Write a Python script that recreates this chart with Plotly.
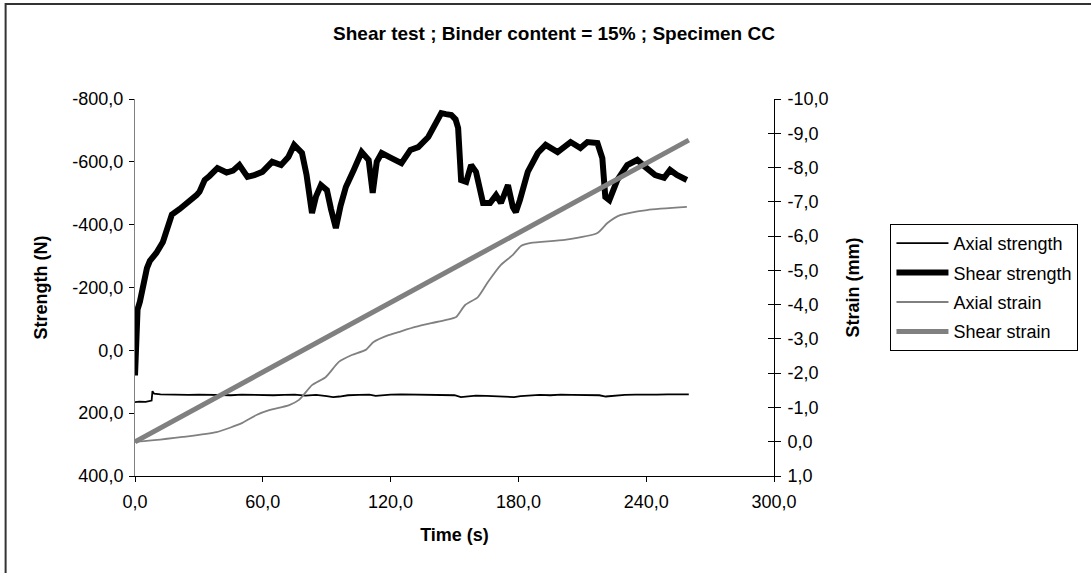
import plotly.graph_objects as go

# ---------------- data ----------------
shear_strength_t = [0, 0.3, 0.6, 1.2, 2.3, 4, 5.6, 7, 10, 13.1, 16.3, 17.3, 21, 25, 28.9, 30.3, 32.7, 35,
                    38.7, 43, 46, 49, 52.8, 56, 59.8, 64.4, 68.6, 72, 74.7, 78.4, 80.5, 83.1, 85, 87.3,
                    90.1, 92, 94.3, 96.5, 99, 102.7, 106.4, 109.7, 111.6, 113.5, 115.8, 120.4, 125.1,
                    129.3, 133, 137.7, 141, 143.8, 146, 148.5, 150.5, 151.7, 153.1, 155.5, 157.8, 160.1,
                    163.4, 166.7, 169.5, 171.8, 175.1, 177.4, 178.8, 180.7, 184.4, 189.1, 192.8, 198.4,
                    204.5, 209.1, 212.4, 217.1, 219.4, 220.8, 222.7, 226.4, 231.1, 235.8, 239.5, 244.2,
                    248.4, 251.2, 254.4, 259.1]
shear_strength_v = [80, 20, -70, -130, -155, -215, -262, -285, -310, -345, -425, -432, -450, -470, -494, -505, -542, -555,
                    -580, -566, -572, -590, -552, -558, -568, -600, -590, -615, -654, -628, -560, -437, -490, -526,
                    -510, -450, -389, -460, -520, -574, -631, -606, -501, -600, -628, -612, -596,
                    -638, -647, -679, -724, -755, -752, -749, -735, -708, -542, -536, -590, -568,
                    -469, -469, -494, -469, -526, -456, -440, -478, -568, -628, -654, -631,
                    -663, -644, -663, -660, -612, -488, -478, -542, -590, -606, -584, -558,
                    -549, -574, -558, -542]

axial_strength_t = [0, 2, 5, 7, 7.8, 8.2, 9, 12, 16, 20, 25, 30, 35, 40, 45, 50, 55, 60, 65, 70, 75, 80,
                    85, 90, 93, 96, 100, 105, 110, 113, 116, 120, 125, 130, 135, 140, 145, 150, 153, 156,
                    160, 165, 170, 175, 178, 181, 185, 190, 195, 200, 205, 210, 215, 218, 221, 225, 230,
                    235, 240, 245, 250, 255, 260]
axial_strength_v = [165, 163, 164, 162, 160, 130, 138, 140, 141, 140, 142, 141, 142, 141, 143, 141, 142, 141,
                    143, 142, 141, 144, 142, 146, 149, 147, 143, 142, 141, 145, 143, 141, 140, 141, 142, 141,
                    142, 143, 149, 146, 144, 145, 146, 147, 149, 146, 144, 142, 143, 141, 142, 142, 141, 143,
                    147, 144, 142, 141, 142, 141, 140, 141, 140]

axial_strain_t = [0, 0.9, 22.4, 38.3, 50.4, 57, 63, 72.4, 77, 83.1, 89.6, 95.7, 101.8, 108.3, 112, 119,
                  123.7, 131.6, 139.1, 145.7, 150.8, 155, 161, 165.7, 171.8, 177.4, 181.2, 185.9, 201.7,
                  217.1, 221.8, 227.8, 240.4, 259.1]
axial_strain_v = [0, 0, -0.14, -0.28, -0.55, -0.78, -0.92, -1.07, -1.22, -1.65, -1.89, -2.33, -2.53, -2.68,
                  -2.91, -3.11, -3.2, -3.35, -3.46, -3.55, -3.64, -3.99, -4.22, -4.66, -5.16, -5.45, -5.71,
                  -5.8, -5.89, -6.09, -6.38, -6.61, -6.76, -6.85]

shear_strain_t = [0, 260]
shear_strain_v = [0, -8.8]

x_ticks = [0, 60, 120, 180, 240, 300]
x_ticktext = ["0,0", "60,0", "120,0", "180,0", "240,0", "300,0"]
y_ticks = [-800, -600, -400, -200, 0, 200, 400]
y_ticktext = ["-800,0", "-600,0", "-400,0", "-200,0", "0,0", "200,0", "400,0"]
y2_ticks = [-10, -9, -8, -7, -6, -5, -4, -3, -2, -1, 0, 1]
y2_ticktext = ["-10,0", "-9,0", "-8,0", "-7,0", "-6,0", "-5,0", "-4,0", "-3,0", "-2,0", "-1,0", "0,0", "1,0"]

FONT = "Liberation Sans, Arial, sans-serif"
GRAY = "#808080"

fig = go.Figure()
fig.add_trace(go.Scatter(x=axial_strength_t, y=axial_strength_v, mode="lines", name="Axial strength",
                         line=dict(color="black", width=1.8), legendgroup="a", yaxis="y"))
fig.add_trace(go.Scatter(x=shear_strength_t, y=shear_strength_v, mode="lines", name="Shear strength",
                         line=dict(color="black", width=6), legendgroup="b", yaxis="y"))
fig.add_trace(go.Scatter(x=axial_strain_t, y=axial_strain_v, mode="lines", name="Axial strain",
                         line=dict(color=GRAY, width=1.8, shape="spline", smoothing=0.6),
                         legendgroup="c", yaxis="y2"))
fig.add_trace(go.Scatter(x=shear_strain_t, y=shear_strain_v, mode="lines", name="Shear strain",
                         line=dict(color=GRAY, width=5), legendgroup="d", yaxis="y2"))

W, H = 1091, 573
L, R, T, B = 135, 777, 99, 476

fig.update_layout(
    width=W, height=H,
    margin=dict(l=L, r=W - R, t=T, b=H - B),
    paper_bgcolor="white", plot_bgcolor="white",
    font=dict(family=FONT, size=18, color="black"),
    title=dict(text="<b>Shear test ; Binder content = 15% ; Specimen CC</b>",
               x=554 / W, xanchor="center", y=1 - 33 / H, yanchor="middle",
               font=dict(size=19, family=FONT, color="black")),
    xaxis=dict(range=[0, 300], tickvals=x_ticks, ticktext=x_ticktext, showgrid=False, zeroline=False,
               showline=True, linecolor="black", linewidth=1, ticks="outside", ticklen=5, tickcolor="black",
               ticklabelstandoff=4,
               title=dict(text="<b>Time (s)</b>", standoff=17, font=dict(size=18))),
    yaxis=dict(range=[400, -800], tickvals=y_ticks, ticktext=y_ticktext, showgrid=False, zeroline=False,
               showline=True, linecolor=GRAY, linewidth=1, ticks="outside", ticklen=5, tickcolor="black",
               ticklabelstandoff=2,
               title=dict(text="<b>Strength (N)</b>", standoff=20, font=dict(size=18))),
    yaxis2=dict(range=[1, -10], tickvals=y2_ticks, ticktext=y2_ticktext, overlaying="y", side="right",
                showgrid=False, zeroline=False, showline=True, linecolor="black", linewidth=1,
                ticks="outside", ticklen=6, tickcolor="black", ticklabelstandoff=3,
                title=dict(text="<b>Strain (mm)</b>", standoff=18, font=dict(size=18))),
    yaxis3=dict(range=[1, -10], tickvals=y2_ticks, overlaying="y", side="right", showticklabels=False,
                showgrid=False, zeroline=False, showline=False, ticks="inside", ticklen=6,
                tickcolor="black"),
    legend=dict(x=(894 - L) / (R - L), xanchor="left", y=(B - 224) / (B - T), yanchor="top",
                bordercolor="black", borderwidth=1, bgcolor="white", font=dict(size=18),
                tracegroupgap=3, itemwidth=52),
    showlegend=True,
    shapes=[dict(type="rect", xref="paper", yref="paper",
                 x0=(5 - L) / (R - L), x1=(1200 - L) / (R - L),
                 y0=(B - 700) / (B - T), y1=(B - 4) / (B - T),
                 line=dict(color="#333333", width=2), fillcolor="rgba(0,0,0,0)", layer="below")],
)
# dummy trace to activate yaxis3 ticks
fig.add_trace(go.Scatter(x=[None], y=[None], yaxis="y3", showlegend=False, hoverinfo="skip"))

fig.write_html("out.html")
